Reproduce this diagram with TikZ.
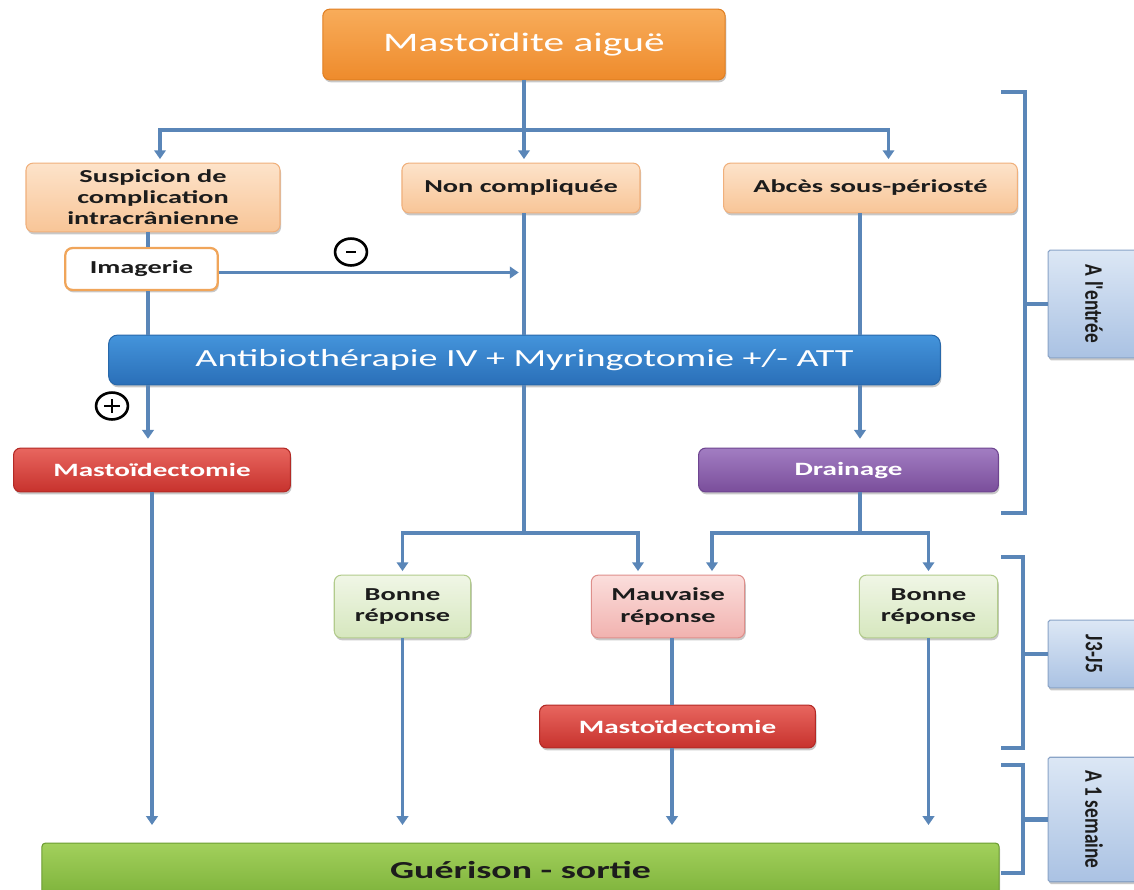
\documentclass[tikz,border=0pt]{standalone}
\usepackage{fontspec}
\setmainfont{Carlito}[FakeStretch=1.55]
\newfontfamily\labfont{Carlito}
\usetikzlibrary{arrows.meta,shadows,calc,shapes.geometric}
\newcommand\pxu{0.5669pt}
\definecolor{lineblue}{HTML}{5A86B8}
\definecolor{txtdark}{HTML}{1C1C1C}
\definecolor{orT}{HTML}{F8AC5A}\definecolor{orB}{HTML}{EE8B2C}\definecolor{orD}{HTML}{E07F22}
\definecolor{peT}{HTML}{FDE3CA}\definecolor{peB}{HTML}{F8C597}\definecolor{peD}{HTML}{F0B07C}
\definecolor{imD}{HTML}{F0A55A}
\definecolor{blT}{HTML}{4494DB}\definecolor{blB}{HTML}{2A6FB8}\definecolor{blD}{HTML}{2868AA}
\definecolor{rdT}{HTML}{E8665F}\definecolor{rdB}{HTML}{C7322D}\definecolor{rdD}{HTML}{B32A26}
\definecolor{puT}{HTML}{A27DC2}\definecolor{puB}{HTML}{7A4E9B}\definecolor{puD}{HTML}{6E4590}
\definecolor{grT}{HTML}{F0F6E6}\definecolor{grB}{HTML}{D6E7BE}\definecolor{grD}{HTML}{B2CB8C}
\definecolor{pkT}{HTML}{FBDEDC}\definecolor{pkB}{HTML}{F1B2AF}\definecolor{pkD}{HTML}{DE8F8B}
\definecolor{gnT}{HTML}{A2D05C}\definecolor{gnB}{HTML}{7DB23A}\definecolor{gnD}{HTML}{6C9C32}
\definecolor{lbT}{HTML}{DCE7F5}\definecolor{lbB}{HTML}{AAC2E3}\definecolor{lbD}{HTML}{8AA4C7}
\begin{document}
\begin{tikzpicture}[x=0.02cm,y=-0.02cm,
  sz/.style 2 args={minimum width={#1*\pxu},minimum height={#2*\pxu}},
  box/.style={rectangle,rounded corners=4pt,inner sep=0pt,align=center,line width=0.6pt,
    drop shadow={shadow xshift=0.6pt,shadow yshift=-1.4pt,opacity=0.3,fill=black!70}},
  titlebox/.style={box,top color=orT,bottom color=orB,draw=orD,text=white,
    font=\fontsize{15.2}{17}\selectfont},
  peach/.style={box,top color=peT,bottom color=peB,draw=peD,text=txtdark,
    font=\fontsize{10.4}{12}\selectfont\bfseries},
  imgbox/.style={box,fill=white,draw=imD,line width=1.3pt,text=txtdark,
    font=\fontsize{10.4}{12}\selectfont\bfseries},
  bluebar/.style={box,rounded corners=5pt,top color=blT,bottom color=blB,draw=blD,text=white,
    font=\fontsize{14}{16}\selectfont},
  redbox/.style={box,top color=rdT,bottom color=rdB,draw=rdD,text=white,
    font=\fontsize{10.7}{12}\selectfont\bfseries},
  purbox/.style={box,top color=puT,bottom color=puB,draw=puD,text=white,
    font=\fontsize{10.7}{12}\selectfont\bfseries},
  grnbox/.style={box,top color=grT,bottom color=grB,draw=grD,text=txtdark,
    font=\fontsize{10.4}{12.4}\selectfont\bfseries},
  pnkbox/.style={box,top color=pkT,bottom color=pkB,draw=pkD,text=txtdark,
    font=\fontsize{10.4}{12.4}\selectfont\bfseries},
  gbar/.style={box,rounded corners=2pt,top color=gnT,bottom color=gnB,draw=gnD,text=txtdark,
    font=\fontsize{13.9}{16}\selectfont\bfseries},
  labbox/.style={rectangle,rounded corners=1pt,inner sep=0pt,top color=lbT,bottom color=lbB,
    draw=lbD,line width=0.6pt,text=txtdark,
    drop shadow={shadow xshift=0.6pt,shadow yshift=-1.4pt,opacity=0.3,fill=black!70}},
  ln/.style={draw=lineblue,line width=2pt},
  arr/.style={ln,-{Triangle[width=6.5pt,length=5pt]},shorten >=2pt},
  arrlong/.style={arr,shorten >=10pt},
  brk/.style={draw=lineblue,line width=2.3pt},
  sym/.style={ellipse,draw=black,line width=1.5pt,inner sep=0pt},
  symbar/.style={draw=black,line width=1.6pt}
]
\useasboundingbox (0,0) rectangle (1134,890);
\fill[white] (0,0) rectangle (1134,890);

% nodes
\node[titlebox,sz={404}{71}] (title) at (524,44.5) {Mastoïdite aiguë};
\node[peach,sz={255}{69}] (susp) at (153,197.5) {Suspicion de\\complication\\intracrânienne};
\node[peach,sz={239}{50}] (nonc) at (521,188) {Non compliquée};
\node[peach,sz={295}{50}] (abces) at (870.5,188) {Abcès sous-périosté};
\node[imgbox,sz={153}{42}] (imag) at (141.5,269) {Imagerie};
\node[bluebar,sz={835}{50}] (antibio) at (524.5,360) {Antibiothérapie IV + Myringotomie +/- ATT};
\node[redbox,sz={278}{44}] (mast1) at (152,470) {Mastoïdectomie};
\node[purbox,sz={301}{44}] (drain) at (848.5,470) {Drainage};
\node[grnbox,sz={137}{63}] (bonne1) at (402.5,606.5) {Bonne\\réponse};
\node[pnkbox,sz={154}{63}] (mauv) at (668,606.5) {Mauvaise\\réponse};
\node[grnbox,sz={139}{63}] (bonne2) at (928.5,606.5) {Bonne\\réponse};
\node[redbox,sz={277}{43}] (mast2) at (677.5,726.5) {Mastoïdectomie};
\node[gbar,sz={961}{54}] (guer) at (520.5,870) {Guérison - sortie};

\node[labbox,sz={92}{108}] (lab1) at (1094,304)
  {\rotatebox{-90}{\scalebox{1}[1.3]{\labfont\bfseries\fontsize{11}{12}\selectfont A l'entrée}}};
\node[labbox,sz={92}{68}] (lab2) at (1094,654)
  {\rotatebox{-90}{\scalebox{1}[1.3]{\labfont\bfseries\fontsize{11}{12}\selectfont J3-J5}}};
\node[labbox,sz={92}{125}] (lab3) at (1094,819.5)
  {\rotatebox{-90}{\scalebox{1}[1.3]{\labfont\bfseries\fontsize{11}{12}\selectfont A 1 semaine}}};

\node[sym,sz={32}{27}] (minus) at (351,252) {};
\node[sym,sz={32}{27}] (plus) at (112,406) {};
\draw[symbar] ($(minus.center)+(-5,0)$) -- ($(minus.center)+(5,0)$);
\draw[symbar] ($(plus.center)+(-8,0)$) -- ($(plus.center)+(8,0)$);
\draw[symbar] ($(plus.center)+(0,-7)$) -- ($(plus.center)+(0,7)$);

% columns and junctions
\coordinate (cL) at (148,0);
\coordinate (cM) at (524,0);
\coordinate (cR) at (860,0);
\coordinate (cX) at (672,0);
\coordinate (j1) at (524,130);
\coordinate (j2) at (524,533);
\coordinate (j3) at (860,533);

% connectors
\draw[ln] (title.south) -- (j1);
\draw[arr] (j1) -| ($(susp.north)+(7,0)$);
\draw[arr] (j1) -- (nonc.north -| j1);
\draw[arr] (j1) -| ($(abces.north)+(18,0)$);

\draw[ln] (susp.south -| cL) -- (imag.north -| cL);
\draw[ln] (imag.south -| cL) -- (antibio.north -| cL);
\draw[arr,shorten >=3pt] ([yshift=-2pt]imag.east) -- ([yshift=-2pt]imag.east -| cM);
\draw[ln] (nonc.south -| cM) -- (antibio.north -| cM);
\draw[ln] (abces.south -| cR) -- (antibio.north -| cR);

\draw[arr,shorten >=5pt] (antibio.south -| cL) -- (mast1.north -| cL);
\draw[ln] (antibio.south -| cM) -- (j2);
\draw[arr] (j2) -| (bonne1.north);
\draw[arr] (j2) -| ($(mauv.north)+(-30,0)$);
\draw[arr,shorten >=5pt] (antibio.south -| cR) -- (drain.north -| cR);
\draw[ln] (drain.south -| cR) -- (j3);
\draw[arr] (j3) -| ($(mauv.north)+(44,0)$);
\draw[arr] (j3) -| (bonne2.north);

\draw[arrlong] (mast1.south) -- (guer.north -| mast1.south);
\draw[arrlong] (bonne1.south) -- (guer.north -| bonne1.south);
\draw[ln] (mauv.south -| cX) -- (mast2.north -| cX);
\draw[arrlong] (mast2.south -| cX) -- (guer.north -| cX);
\draw[arrlong] (bonne2.south) -- (guer.north -| bonne2.south);

% brackets
\coordinate (s1) at (1025,0);
\coordinate (s2) at (1023,0);
\draw[brk] (1001,92) -- (1025,92) -- (1025,513) -- (1001,513);
\draw[brk] (lab1.west -| s1) -- (lab1.west);
\draw[brk] (1001,557) -- (1023,557) -- (1023,748) -- (1001,748);
\draw[brk] (lab2.west -| s2) -- (lab2.west);
\draw[brk] (1001,765) -- (1023,765) -- (1023,873) -- (1001,873);
\draw[brk] (lab3.west -| s2) -- (lab3.west);
\end{tikzpicture}
\end{document}
